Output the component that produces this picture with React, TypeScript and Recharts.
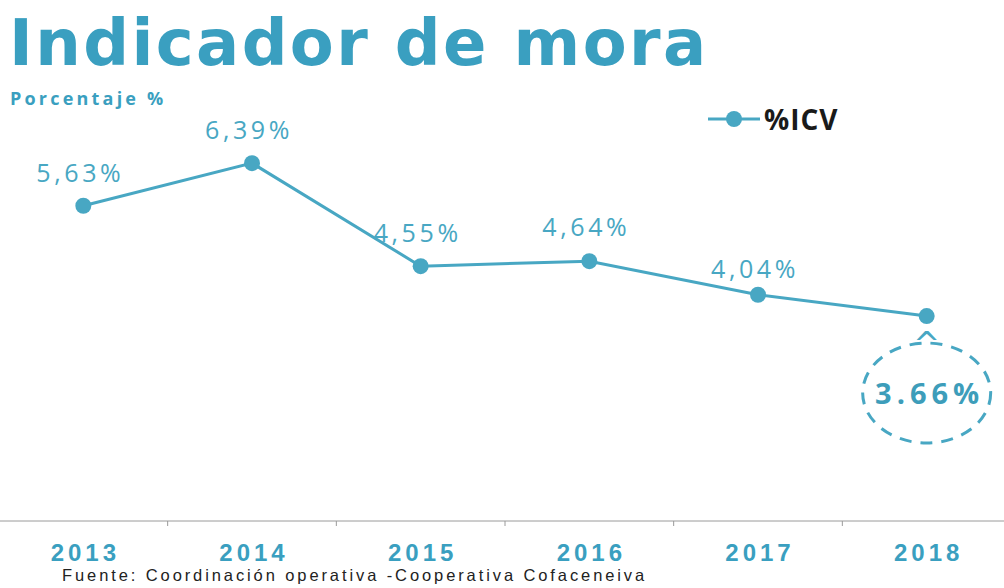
import React from 'react';
import { LineChart, Line, XAxis, YAxis, LabelList } from 'recharts';

const years = ['2013', '2014', '2015', '2016', '2017', '2018'];
const icv = [5.63, 6.39, 4.55, 4.64, 4.04, 3.66];
const labels = ['5,63%', '6,39%', '4,55%', '4,64%', '4,04%', '3.66%'];
const labelLift = [24, 24, 24, 25, 17, 0];

const data = years.map((year, i) => ({ year, icv: icv[i], label: labels[i] }));

const BLUE = '#48a7c3';
const TITLE_BLUE = '#3a9fc0';
const CHART_W = 1012;
const STEP = CHART_W / years.length;

const PointLabel = (props: any) => {
  const { x, y, index, value } = props;
  if (index === labels.length - 1) {
    // last point gets the dashed callout
    const cy = y + 77;
    return (
      <g>
        <text x={x} y={y + 39} textAnchor="middle" fontSize={32} fill={BLUE} fontFamily="DejaVu Sans">^</text>
        <ellipse cx={x} cy={cy} rx={64} ry={50} fill="none" stroke={BLUE} strokeWidth={3} strokeDasharray="12 9" />
        <text x={x + 3} y={cy + 11} textAnchor="middle" fontSize={29} fontWeight={700} letterSpacing={5} fill="#3d9dba" fontFamily="Open Sans">
          {value}
        </text>
      </g>
    );
  }
  return (
    <text x={x - 3} y={y - labelLift[index]} textAnchor="middle" fontSize={25} letterSpacing={3.6} fill={BLUE} fontFamily="Open Sans">
      {value}
    </text>
  );
};

const YearTick = (props: any) => {
  const { x, y, payload } = props;
  // tick marks sit on the category boundaries, not the centres
  return (
    <g>
      <line x1={x - STEP / 2} y1={y - 7} x2={x - STEP / 2} y2={y - 2} stroke="#9a9a9a" />
      <text x={x + 2} y={y + 33} textAnchor="middle" fontSize={24} fontWeight={700} letterSpacing={4} fill={TITLE_BLUE} fontFamily="Liberation Sans">
        {payload.value}
      </text>
    </g>
  );
};

export default function App() {
  return (
    <div style={{ position: 'absolute', left: 0, top: 0, width: 1004, height: 588, overflow: 'hidden', background: '#fff' }}>
      <style>{`body{margin:0;overflow:hidden}`}</style>
      <div style={{ position: 'absolute', left: -1, top: 0 }}>
        <LineChart width={CHART_W} height={588} data={data} margin={{ top: 73, right: 0, bottom: 0, left: 0 }}>
          <XAxis
            dataKey="year"
            height={67}
            stroke="#9a9a9a"
            tickSize={5}
            tickLine={{ stroke: 'none' }}
            tick={<YearTick />}
            interval={0}
            padding={{ left: STEP / 2, right: STEP / 2 }}
          />
          <YAxis hide domain={[0, 8]} />
          <Line
            dataKey="icv"
            name="%ICV"
            stroke={BLUE}
            strokeWidth={3}
            dot={{ r: 8, fill: BLUE, stroke: BLUE, strokeWidth: 0 }}
            isAnimationActive={false}
          >
            <LabelList dataKey="label" content={<PointLabel />} />
          </Line>
        </LineChart>
      </div>
      <div style={{ position: 'absolute', left: 708, top: 100, display: 'flex', alignItems: 'center', fontFamily: 'Open Sans', fontWeight: 700, fontSize: 28, color: '#1a1a1a', letterSpacing: 1 }}>
        <svg width={54} height={20}>
          <line x1={0} y1={10} x2={52} y2={10} stroke={BLUE} strokeWidth={3} />
          <circle cx={26} cy={10} r={8} fill={BLUE} />
        </svg>
        <span style={{ marginLeft: 2 }}>%ICV</span>
      </div>
      <div style={{ position: 'absolute', left: 9, top: 5, fontFamily: 'DejaVu Sans', fontWeight: 700, fontSize: 64, color: TITLE_BLUE, lineHeight: '76px', letterSpacing: 2.4, whiteSpace: 'nowrap' }}>
        Indicador de mora
      </div>
      <div style={{ position: 'absolute', left: 10, top: 86, fontFamily: 'Open Sans', fontWeight: 700, fontSize: 18, color: TITLE_BLUE, letterSpacing: 3.2 }}>
        Porcentaje %
      </div>
      <div style={{ position: 'absolute', left: 62, top: 566, fontFamily: 'Liberation Sans', fontSize: 16.5, color: '#222', letterSpacing: 2.9, whiteSpace: 'nowrap' }}>
        Fuente: Coordinación operativa -Cooperativa Cofaceneiva
      </div>
    </div>
  );
}
